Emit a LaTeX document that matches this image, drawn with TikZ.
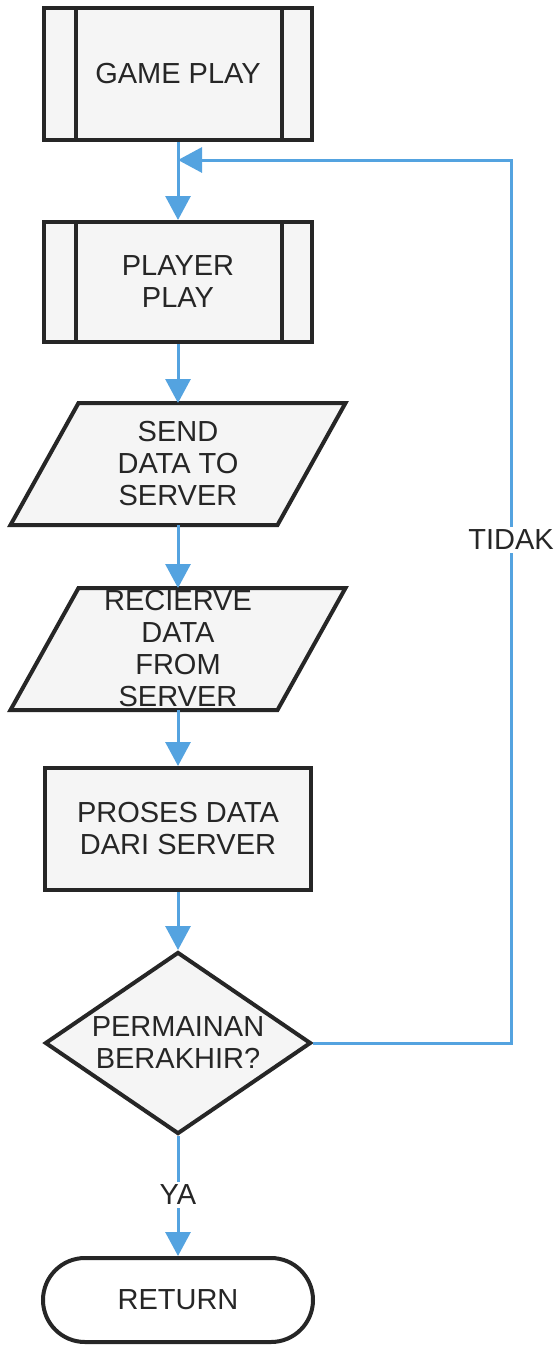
\documentclass[tikz,border=0pt]{standalone}
\usepackage{fontspec}
\setmainfont{Liberation Sans}
\usetikzlibrary{arrows.meta,shapes.geometric,calc}
\pgfdeclarelayer{paper}
\pgfdeclarelayer{under}
\pgfsetlayers{paper,under,main}

\definecolor{flowblue}{RGB}{84,163,224}
\definecolor{ink}{RGB}{38,38,38}
\definecolor{boxfill}{RGB}{245,245,245}

\tikzset{
  txt/.style={text=ink, font=\fontsize{29}{32}\selectfont, align=center},
  box/.style={txt, draw=ink, line width=4pt, fill=boxfill, inner sep=0pt,
              minimum width=268pt},
  iobox/.style={txt, inner sep=0pt, outer sep=0pt,
                minimum width=267pt, minimum height=122pt},
  iopath/.style={draw=ink, line width=4pt, fill=boxfill, line join=miter},
  decbox/.style={txt, diamond, draw=ink, line width=4pt, fill=boxfill,
                 inner sep=0pt, minimum width=266pt, minimum height=182pt, aspect=1.46},
  termbox/.style={txt, draw=ink, line width=4pt, fill=white, inner sep=0pt,
                  rounded corners=42pt, minimum width=270pt, minimum height=84pt},
  bar/.style={draw=ink, line width=4pt},
  flow/.style={draw=flowblue, line width=3pt, -{Triangle[width=25pt,length=24pt]}},
  lbl/.style={txt, fill=white, inner sep=3pt}
}

\begin{document}
\begin{tikzpicture}[x=1pt, y=-1pt]
  \begin{pgfonlayer}{paper}
    \fill[white] (0,0) rectangle (558,1345);
  \end{pgfonlayer}
  \useasboundingbox (0,0) rectangle (558,1345);

  % predefined processes
  \node[box, minimum height=132pt] (gp) at (178,74) {GAME PLAY};
  \node[box, minimum height=120pt] (pp) at (178,282) {PLAYER\\PLAY};
  \foreach \n in {gp,pp} {
    \draw[bar] ([xshift=34pt]\n.north west) -- ([xshift=34pt]\n.south west);
    \draw[bar] ([xshift=-32pt]\n.north east) -- ([xshift=-32pt]\n.south east);
  }

  % input / output
  \node[iobox] (send) at (178,464) {SEND\\DATA TO\\SERVER};
  \node[iobox] (recv) at (178,649) {RECIERVE\\DATA\\FROM\\SERVER};
  \begin{pgfonlayer}{under}
    \foreach \n in {send,recv} {
      \path[iopath] ($(\n.north west)+(34,0)$) -- ($(\n.north east)+(34,0)$)
        -- ($(\n.south east)+(-34,0)$) -- ($(\n.south west)+(-34,0)$) -- cycle;
    }
  \end{pgfonlayer}

  % process, decision, terminator
  \node[box, minimum width=266pt, minimum height=122pt] (proc) at (178,829) {PROSES DATA\\DARI SERVER};
  \node[decbox] (dec) at (178,1043) {PERMAINAN\\BERAKHIR?};
  \node[termbox] (ret) at (178,1300) {RETURN};

  % connectors
  \coordinate (join) at (178,160);
  \coordinate (rbot) at (511,1043);
  \coordinate (rtop) at (511,160);

  \draw[flow] (gp.south) -- (pp.north);
  \draw[flow] (pp.south) -- (send.north);
  \draw[flow] (send.south) -- (recv.north);
  \draw[flow] (recv.south) -- (proc.north);
  \draw[flow] (proc.south) -- (dec.north);
  \draw[flow] (dec.south) -- node[lbl, pos=0.49] {YA} (ret.north);
  \draw[flow] (dec.east) -- (rbot) -- node[lbl, pos=0.57] {TIDAK} (rtop) -- (join);
\end{tikzpicture}
\end{document}
